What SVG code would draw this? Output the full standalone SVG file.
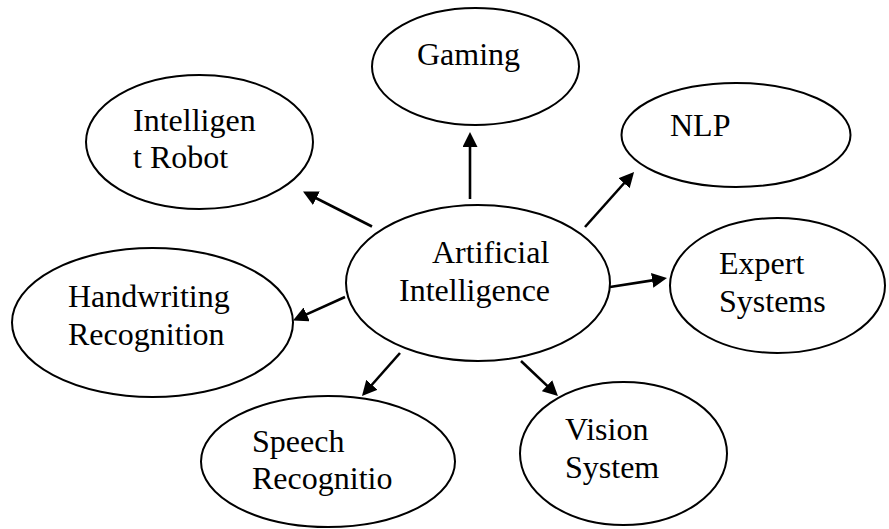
<svg xmlns="http://www.w3.org/2000/svg" width="889" height="529" viewBox="0 0 889 529">
<style>
.node ellipse{fill:#fff;stroke:#000;stroke-width:2}
.node text{font-size:32px;fill:#000}
.conn line{stroke:#000;stroke-width:2.6;marker-end:url(#ah)}
</style>
<defs>
<marker id="ah" viewBox="0 0 15 15" markerWidth="15" markerHeight="15" refX="5" refY="7.5" orient="auto" markerUnits="userSpaceOnUse">
<path d="M0,0 L15,7.5 L0,15 z" fill="#000"/>
</marker>
</defs>
<rect width="889" height="529" fill="#fff"/>
<g font-family="Liberation Serif, Times New Roman, Tinos, DejaVu Serif, serif">
<g id="gaming" class="node"><ellipse cx="475.5" cy="66.5" rx="103.5" ry="58.5"/><text x="417" y="65">Gaming</text></g>
<g id="robot" class="node"><ellipse cx="199.5" cy="142" rx="113.5" ry="67"/><text x="133" y="131">Intelligen</text><text x="133" y="168">t Robot</text></g>
<g id="nlp" class="node"><ellipse cx="736" cy="135" rx="114.5" ry="52"/><text x="670" y="136">NLP</text></g>
<g id="ai" class="node"><ellipse cx="478" cy="283" rx="132" ry="78"/><text x="432" y="263">Artificial</text><text x="399" y="301">Intelligence</text></g>
<g id="expert" class="node"><ellipse cx="777.5" cy="285.5" rx="107.5" ry="67.5"/><text x="719" y="274">Expert</text><text x="719" y="312">Systems</text></g>
<g id="handwriting" class="node"><ellipse cx="152.5" cy="322.5" rx="140.5" ry="74.5"/><text x="68" y="307">Handwriting</text><text x="68" y="345">Recognition</text></g>
<g id="speech" class="node"><ellipse cx="328" cy="461.5" rx="127" ry="65.5"/><text x="252" y="452">Speech</text><text x="252" y="489">Recognitio</text></g>
<g id="vision" class="node"><ellipse cx="623.5" cy="453.5" rx="103.5" ry="71.5"/><text x="565" y="440">Vision</text><text x="565" y="478">System</text></g>
</g>
<g id="connectors" class="conn">
<line x1="470" y1="199" x2="470" y2="142"/>
<line x1="585" y1="227" x2="627.4" y2="179.5"/>
<line x1="610" y1="287" x2="657.1" y2="279.6"/>
<line x1="521" y1="361" x2="550.7" y2="389.1"/>
<line x1="400" y1="353" x2="368.6" y2="388.5"/>
<line x1="345" y1="297" x2="302.1" y2="316.4"/>
<line x1="372" y1="226.5" x2="311.9" y2="196"/>
</g>
</svg>
